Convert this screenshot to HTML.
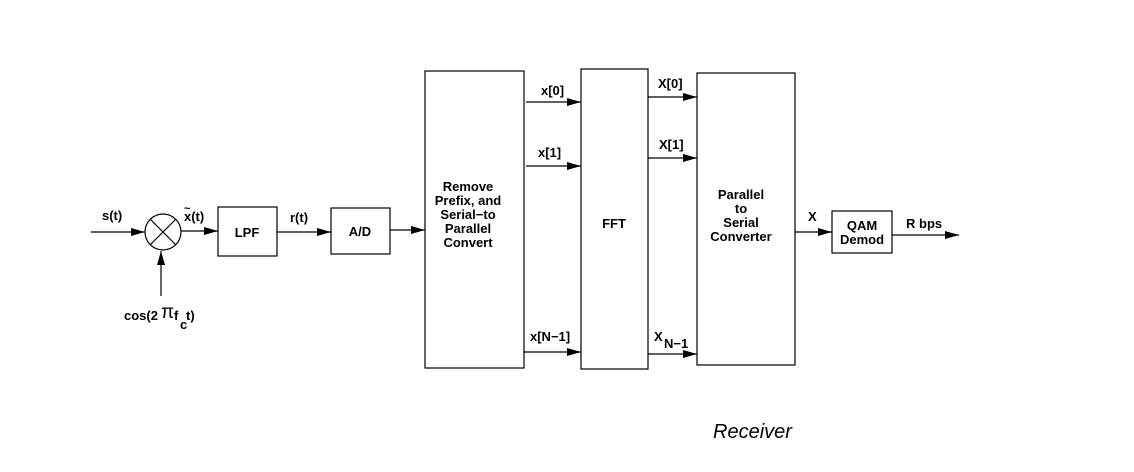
<!DOCTYPE html>
<html><head><style>html,body{margin:0;padding:0;background:#fff}svg{display:block}</style></head><body>
<svg width="1134" height="472" xmlns="http://www.w3.org/2000/svg" font-family="Liberation Sans, sans-serif" font-weight="bold" font-size="13">
<defs><marker id="a" markerWidth="14" markerHeight="8" refX="14" refY="4" orient="auto" markerUnits="userSpaceOnUse"><path d="M0,0L14,4L0,8z" fill="#000"/></marker></defs>
<g stroke="#000" stroke-width="1.2" fill="none">
<line x1="91" y1="232" x2="145" y2="232" marker-end="url(#a)"/>
<circle cx="163" cy="232" r="18"/>
<line x1="150" y1="219" x2="176" y2="245"/><line x1="176" y1="219" x2="150" y2="245"/>
<line x1="161" y1="296" x2="161" y2="251" marker-end="url(#a)"/>
<line x1="181" y1="231" x2="218" y2="231" marker-end="url(#a)"/>
<rect x="218" y="207" width="59" height="49"/>
<line x1="277" y1="232" x2="331" y2="232" marker-end="url(#a)"/>
<rect x="331" y="208" width="59" height="46"/>
<line x1="390" y1="230" x2="425" y2="230" marker-end="url(#a)"/>
<rect x="425" y="71" width="99" height="297"/>
<line x1="526" y1="102" x2="581" y2="102" marker-end="url(#a)"/>
<line x1="526" y1="166" x2="581" y2="166" marker-end="url(#a)"/>
<line x1="524" y1="352" x2="581" y2="352" marker-end="url(#a)"/>
<rect x="581" y="69" width="67" height="300"/>
<line x1="648" y1="97" x2="697" y2="97" marker-end="url(#a)"/>
<line x1="648" y1="158" x2="697" y2="158" marker-end="url(#a)"/>
<line x1="648" y1="354" x2="697" y2="354" marker-end="url(#a)"/>
<rect x="697" y="73" width="98" height="292"/>
<line x1="795" y1="232" x2="832" y2="232" marker-end="url(#a)"/>
<rect x="832" y="211" width="60" height="42"/>
<line x1="892" y1="235" x2="959" y2="235" marker-end="url(#a)"/>
</g>
<g fill="#000">
<text x="102" y="220">s(t)</text>
<text x="184" y="221">x(t)</text><text x="184" y="212" font-size="11">~</text>
<text x="247" y="237" text-anchor="middle">LPF</text>
<text x="290" y="222">r(t)</text>
<text x="360" y="236" text-anchor="middle">A/D</text>
<text x="124" y="320">cos(2</text><text x="161" y="318" font-size="19" font-weight="normal">π</text><text x="174" y="320">f</text><text x="180" y="329">c</text><text x="186" y="320">t)</text>
<text x="468" y="191" text-anchor="middle">Remove</text>
<text x="468" y="205" text-anchor="middle">Prefix, and</text>
<text x="468" y="219" text-anchor="middle">Serial−to</text>
<text x="468" y="233" text-anchor="middle">Parallel</text>
<text x="468" y="247" text-anchor="middle">Convert</text>
<text x="541" y="95">x[0]</text>
<text x="538" y="157">x[1]</text>
<text x="530" y="341">x[N−1]</text>
<text x="614" y="228" text-anchor="middle">FFT</text>
<text x="658" y="88">X[0]</text>
<text x="659" y="149">X[1]</text>
<text x="654" y="341">X</text><text x="664" y="348">N−1</text>
<text x="741" y="199" text-anchor="middle">Parallel</text>
<text x="741" y="213" text-anchor="middle">to</text>
<text x="741" y="227" text-anchor="middle">Serial</text>
<text x="741" y="241" text-anchor="middle">Converter</text>
<text x="808" y="221">X</text>
<text x="862" y="230" text-anchor="middle">QAM</text>
<text x="862" y="244" text-anchor="middle">Demod</text>
<text x="906" y="228">R bps</text>
<text x="713" y="438" font-weight="normal" font-style="italic" font-size="20">Receiver</text>
</g>
</svg>
</body></html>
